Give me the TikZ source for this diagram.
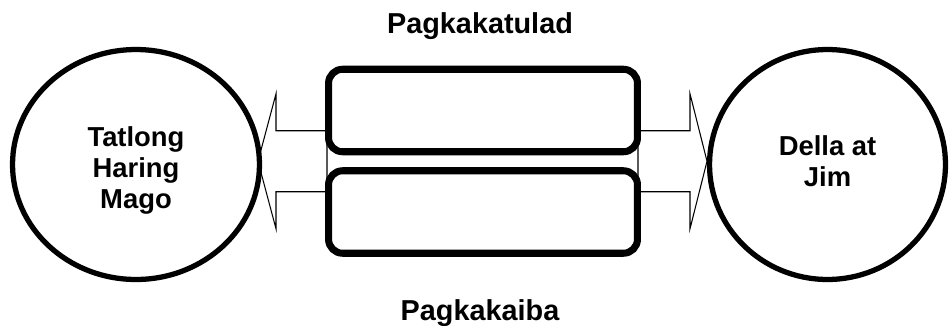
\documentclass[tikz,border=0pt]{standalone}
\usepackage{fontspec}
\setmainfont{Liberation Sans}
\usetikzlibrary{shapes.geometric,positioning,calc,backgrounds}

\begin{document}
\begin{tikzpicture}[x=0.02cm,y=-0.02cm,
    circ/.style={draw,ellipse,line width=3pt,fill=white,inner sep=0pt,
                 minimum height=4.6cm},
    circtext/.style={align=center,font=\fontsize{15.6}{17.8}\selectfont\bfseries},
    panel/.style={draw,line width=4pt,rounded corners=8pt,fill=white,
                  minimum width=6.18cm,minimum height=1.65cm},
    blockarr/.style={draw,line width=0.6pt,fill=white},
    heading/.style={font=\fontsize{16.4}{18}\selectfont\bfseries,anchor=base},
  ]
    \useasboundingbox (0,0) rectangle (949,325);
    % the two comparison boxes
    \node[panel](same) at (483,110.5){};
    \node[panel](diff) at (483,212){};
    \coordinate (mid) at ($(same.south)!0.5!(diff.north)$);
    % block arrows behind the boxes
    \begin{scope}[on background layer]
      \draw[blockarr] ($(mid)+(-156,-30.5)$) -- ++(-51,0) -- ++(0,-37)
        -- ++(-18,67.5) -- ++(18,67.5) -- ++(0,-37) -- ++(51,0) -- cycle;
      \draw[blockarr] ($(mid)+(155,-30.5)$) -- ++(52,0) -- ++(0,-37)
        -- ++(17,67.5) -- ++(-17,67.5) -- ++(0,-37) -- ++(-52,0) -- cycle;
    \end{scope}
    % the two circles
    \node[circ,minimum width=4.94cm](magi) at (136,164.5){};
    \node[circ,minimum width=4.72cm](pair) at (827.5,164.5){};
    \node[circtext](magitext) at ($(magi)+(0,6)$){Tatlong\\Haring\\Mago};
    \node[circtext](pairtext) at ($(pair)+(0,-3)$){Della at\\Jim};
    % headings
    \node[heading](simlabel) at (480,33){Pagkakatulad};
    \node[heading](difflabel) at (480,320){Pagkakaiba};
\end{tikzpicture}
\end{document}
